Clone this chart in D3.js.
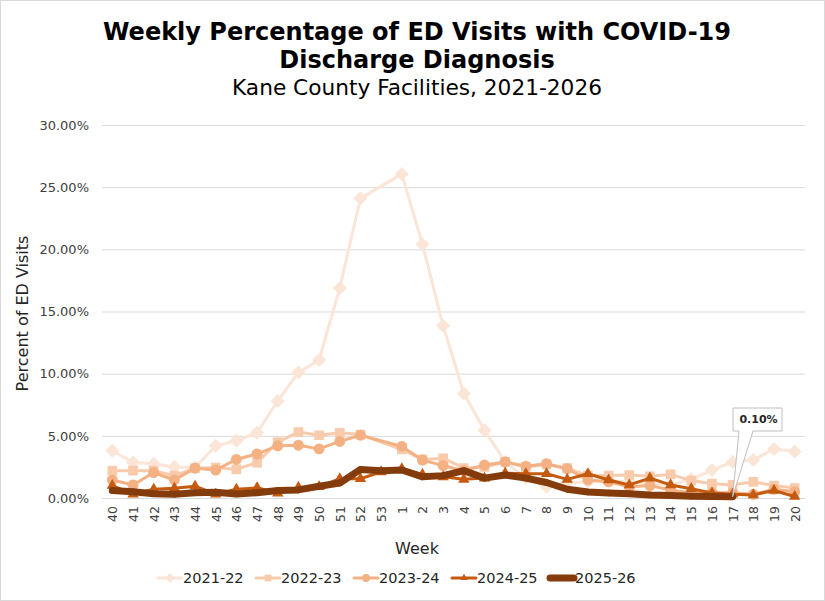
<!DOCTYPE html>
<html>
<head>
<meta charset="utf-8">
<script src="https://cdn.jsdelivr.net/npm/d3@7"></script>
<style>
  body { margin: 0; background: #fff; }
  text { font-family: "DejaVu Sans", Verdana, sans-serif; }
</style>
</head>
<body>
<svg id="chart"></svg>
<script>
// week order on the x axis (season runs week 40 -> week 20)
const weeks = ["40","41","42","43","44","45","46","47","48","49","50","51","52","53",
  "1","2","3","4","5","6","7","8","9","10","11","12","13","14","15","16","17","18","19","20"];

const seasons = ["2021-22", "2022-23", "2023-24", "2024-25", "2025-26"];

// percent of ED visits (null = no point)
const s2122 = [3.8, 2.85, 2.75, 2.5, 2.45, 4.2, 4.6, 5.25, 7.8, 10.1, 11.1, 16.9, 24.1, null,
  26.05, 20.4, 13.85, 8.4, 5.45, 2.9, 1.6, 0.9, 1.2, 1.3, 1.4, 1.3, 1.2, 1.05, 1.5, 2.25, 2.9, 3.05, 3.95, 3.75];
const s2223 = [2.2, 2.2, 2.2, 1.8, 2.4, 2.45, 2.3, 2.85, 4.5, 5.3, 5.05, 5.25, 5.1, null,
  3.9, 3.1, 3.2, 2.4, 2.5, 2.9, 2.5, 2.7, 2.4, 1.8, 1.8, 1.85, 1.75, 1.9, 1.4, 1.15, 1.05, 1.3, 1.0, 0.8];
const s2324 = [1.45, 1.05, 2.05, 1.45, 2.4, 2.25, 3.1, 3.55, 4.2, 4.25, 3.95, 4.55, 5.05, null,
  4.15, 3.05, 2.6, 2.2, 2.65, 2.9, 2.55, 2.75, 2.35, 1.45, 1.3, 0.9, 1.0, 0.65, 0.4, 0.45, 0.43, 0.3, 0.7, 0.5];
const s2425 = [1.0, 0.3, 0.7, 0.78, 0.95, 0.3, 0.7, 0.82, 0.38, 0.85, 0.9, 1.55, 1.55, 2.1,
  2.35, 1.9, 1.7, 1.5, 1.6, 2.0, 1.95, 1.95, 1.5, 1.95, 1.45, 1.05, 1.6, 1.05, 0.75, 0.4, 0.3, 0.25, 0.6, 0.12];
const s2526 = [0.6, 0.5, 0.35, 0.3, 0.42, 0.46, 0.33, 0.42, 0.6, 0.65, 0.95, 1.2, 2.3, 2.2,
  2.25, 1.7, 1.8, 2.2, 1.6, 1.85, 1.6, 1.25, 0.7, 0.48, 0.4, 0.35, 0.25, 0.2, 0.15, 0.12, 0.1, null, null, null];

const yTicks = [0, 5, 10, 15, 20, 25, 30];

class WeeklyChart {

  constructor(_config, _data) {
    this.config = {
      parentElement: _config.parentElement,
      containerWidth: _config.containerWidth,
      containerHeight: _config.containerHeight,
      margin: _config.margin
    }
    this.data = _data;
    this.initVis();
  }

  initVis() {
    let vis = this;

    // excel orange accent shades
    vis.colors = ["#FBE5D6", "#F8CBAD", "#F4B183", "#C55A11", "#843C0C"];
    vis.widths = [3, 3, 3, 3, 7];
    vis.symbols = [d3.symbolDiamond2, d3.symbolSquare2, d3.symbolCircle, d3.symbolTriangle2, d3.symbolCircle];
    vis.symSizes = [90, 85, 70, 55, 20];

    vis.svg = d3.select(vis.config.parentElement)
        .attr('width', vis.config.containerWidth)
        .attr('height', vis.config.containerHeight);

    vis.svg.append('rect')
        .attr('x', 0.5).attr('y', 0.5)
        .attr('width', vis.config.containerWidth - 1)
        .attr('height', vis.config.containerHeight - 1)
        .attr('fill', '#fff')
        .attr('stroke', '#d9d9d9');

    const m = vis.config.margin;
    vis.x = d3.scalePoint()
        .domain(weeks)
        .range([m.left, vis.config.containerWidth - m.right])
        .padding(0.5);

    vis.y = d3.scaleLinear()
        .domain([0, 30])
        .range([vis.config.containerHeight - m.bottom, m.top]);

    vis.renderVis();
  }

  fitText(sel, target) {
    // shrink/grow font so a line matches the width seen in the picture
    const fs = parseFloat(sel.attr('font-size'));
    const w = sel.node().getComputedTextLength();
    sel.attr('font-size', (fs * target / w).toFixed(2));
  }

  renderVis() {
    let vis = this;
    const x0 = vis.x.range()[0], x1 = vis.x.range()[1];
    const cx = 417;

    // titles
    const t1 = vis.svg.append('text').attr('x', cx).attr('y', 40)
        .attr('text-anchor', 'middle').attr('font-weight', 'bold').attr('font-size', 24)
        .text('Weekly Percentage of ED Visits with COVID-19');
    vis.fitText(t1, 628);
    vis.svg.append('text').attr('x', cx).attr('y', 68)
        .attr('text-anchor', 'middle').attr('font-weight', 'bold').attr('font-size', t1.attr('font-size'))
        .text('Discharge Diagnosis');
    const t3 = vis.svg.append('text').attr('x', cx).attr('y', 95)
        .attr('text-anchor', 'middle').attr('font-size', 20)
        .text('Kane County Facilities, 2021-2026');
    vis.fitText(t3, 370);

    // gridlines + y labels
    const yAxis = vis.svg.append('g')
        .attr('transform', `translate(${x0},0)`)
        .call(d3.axisLeft(vis.y).tickValues(yTicks).tickSize(-(x1 - x0))
          .tickFormat(d => d.toFixed(2) + '%'));
    yAxis.select('.domain').remove();
    yAxis.selectAll('line').attr('stroke', '#d9d9d9');
    yAxis.selectAll('text')
        .attr('x', -13)
        .attr('fill', '#404040')
        .attr('font-size', 13)
        .attr('font-family', '"DejaVu Sans", Verdana, sans-serif');

    // x labels (rotated)
    const xAxis = vis.svg.append('g')
        .attr('transform', `translate(0,${vis.y(0)})`)
        .call(d3.axisBottom(vis.x).tickSize(0));
    xAxis.select('.domain').attr('stroke', '#d9d9d9');
    xAxis.selectAll('text')
        .attr('transform', 'rotate(-90)')
        .attr('text-anchor', 'end')
        .attr('x', -8)
        .attr('y', 0)
        .attr('dy', '0.35em')
        .attr('fill', '#404040')
        .attr('font-size', 12.5)
        .attr('font-family', '"DejaVu Sans", Verdana, sans-serif');

    // axis titles
    vis.svg.append('text')
        .attr('transform', `translate(22,${(vis.y(0) + vis.y(30)) / 2 + 2}) rotate(-90)`)
        .attr('text-anchor', 'middle').attr('dy', '0.35em')
        .attr('font-size', 16).attr('fill', '#262626')
        .text('Percent of ED Visits');
    vis.svg.append('text')
        .attr('x', cx).attr('y', 554)
        .attr('text-anchor', 'middle').attr('font-size', 16).attr('fill', '#262626')
        .text('Week');

    const line = d3.line()
        .x(d => vis.x(d.week))
        .y(d => vis.y(d.value));

    vis.data.forEach((values, i) => {
      const pts = values.map((v, j) => ({ week: weeks[j], value: v }))
          .filter(d => d.value !== null);

      const g = vis.svg.append('g').attr('class', 'series');
      g.append('path')
          .attr('d', line(pts))
          .attr('fill', 'none')
          .attr('stroke', vis.colors[i])
          .attr('stroke-width', vis.widths[i])
          .attr('stroke-linejoin', 'round')
          .attr('stroke-linecap', 'round');

      g.selectAll('.marker')
          .data(pts)
          .join('path')
          .attr('class', 'marker')
          .attr('d', d3.symbol().type(vis.symbols[i]).size(vis.symSizes[i]))
          .attr('transform', d => `translate(${vis.x(d.week)},${vis.y(d.value)})`)
          .attr('fill', vis.colors[i])
          .attr('stroke', vis.colors[i])
          .attr('stroke-width', 1.5);
    });

    // callout on the last 2025-26 point
    const last = s2526.map((v, j) => ({ week: weeks[j], value: v }))
        .filter(d => d.value !== null).pop();
    const px = vis.x(last.week), py = vis.y(last.value);
    const bx = 733, by = 408, bw = 49, bh = 23;
    vis.svg.append('path')
        .attr('d', `M${bx},${by} H${bx + bw} V${by + bh} H${bx + 20} L${px},${py} L${bx + 6},${by + bh} H${bx} Z`)
        .attr('fill', '#fff')
        .attr('stroke', '#bfbfbf');
    vis.svg.append('text')
        .attr('x', bx + bw / 2 + 1).attr('y', by + bh / 2)
        .attr('dy', '0.36em')
        .attr('text-anchor', 'middle')
        .attr('font-weight', 'bold').attr('font-size', 11).attr('fill', '#262626')
        .text(last.value.toFixed(2) + '%');

    // legend
    const legend = vis.svg.append('g').attr('transform', 'translate(158,578)');
    seasons.forEach((s, i) => {
      const lg = legend.append('g').attr('transform', `translate(${i * 98},0)`);
      lg.append('line')
          .attr('x1', 0).attr('x2', 24)
          .attr('stroke', vis.colors[i])
          .attr('stroke-width', vis.widths[i])
          .attr('stroke-linecap', 'round');
      lg.append('path')
          .attr('d', d3.symbol().type(vis.symbols[i]).size(vis.symSizes[i] * 0.7))
          .attr('transform', 'translate(12,0)')
          .attr('fill', vis.colors[i]);
      lg.append('text')
          .attr('x', 25).attr('dy', '0.35em')
          .attr('font-size', 14.5).attr('fill', '#262626')
          .text(s);
    });
  }
}

new WeeklyChart({
  parentElement: '#chart',
  containerWidth: 825,
  containerHeight: 601,
  margin: { top: 125, right: 20, bottom: 103, left: 102 }
}, [s2122, s2223, s2324, s2425, s2526]);
</script>
</body>
</html>
